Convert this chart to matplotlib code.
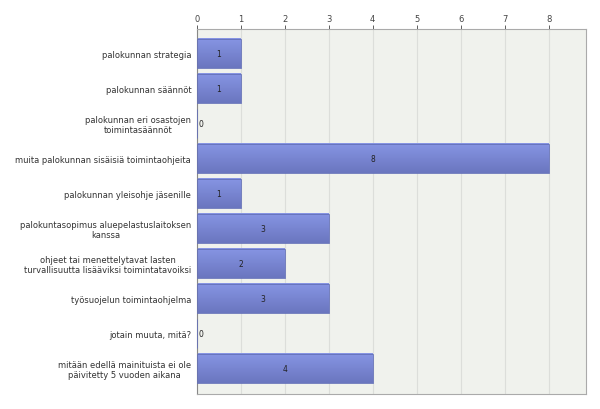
import matplotlib
matplotlib.use("Agg")
import matplotlib.pyplot as plt
import numpy as np
from matplotlib.colors import LinearSegmentedColormap

categories = [
    "palokunnan strategia",
    "palokunnan säännöt",
    "palokunnan eri osastojen\ntoimintasäännöt",
    "muita palokunnan sisäisiä toimintaohjeita",
    "palokunnan yleisohje jäsenille",
    "palokuntasopimus aluepelastuslaitoksen\nkanssa",
    "ohjeet tai menettelytavat lasten\nturvallisuutta lisääviksi toimintatavoiksi",
    "työsuojelun toimintaohjelma",
    "jotain muuta, mitä?",
    "mitään edellä mainituista ei ole\npäivitetty 5 vuoden aikana",
]
values = [1, 1, 0, 8, 1, 3, 2, 3, 0, 4]
xticks = [0, 1, 2, 3, 4, 5, 6, 7, 8]

plt.rcParams['font.family'] = ['DejaVu Sans']

fig = plt.figure(figsize=(6, 4.1), dpi=100)
ax = fig.add_axes([0.328, 0.037, 0.648, 0.890])
ax.set_facecolor("#f0f2ed")

pos = list(range(len(values)))
bars = ax.barh(pos, values, height=0.83, color="none", edgecolor="#6370b8", linewidth=0.6, zorder=3)

# vertical gradient inside each bar
cmap = LinearSegmentedColormap.from_list("bar", ["#8795e4", "#6a76bf"])
grad = np.linspace(0, 1, 64).reshape(-1, 1)
for b in bars:
    w = b.get_width()
    if w <= 0:
        continue
    y0 = b.get_y()
    h = b.get_height()
    ax.imshow(grad, cmap=cmap, aspect="auto", origin="upper",
              extent=[0, w, y0 + h, y0], zorder=2.5, interpolation="bicubic")

for p, v in zip(pos, values):
    if v > 0:
        ax.text(v / 2, p, str(v), ha="center", va="center", fontsize=5.5, color="#222222", zorder=4)
    else:
        ax.text(0.05, p, str(v), ha="left", va="center", fontsize=5.5, color="#222222", zorder=4)

ax.set_xlim(0, 8.84)
ax.set_ylim(9.73, -0.7)
ax.set_xticks(xticks)
ax.xaxis.tick_top()
ax.tick_params(axis="x", labelsize=6, colors="#444444", length=3, width=0.6, pad=1)
ax.set_yticks(pos)
ax.set_yticklabels(categories, fontsize=6, color="#333333")
for lbl in ax.get_yticklabels():
    lbl.set_multialignment("center")
    lbl.set_linespacing(1.1)
ax.tick_params(axis="y", length=0, pad=4)
ax.grid(axis="x", color="#dcdeda", linewidth=0.8, zorder=0)

for s in ax.spines.values():
    s.set_color("#aaaaaa")
    s.set_linewidth(0.8)
ax.spines["left"].set_color("#888888")

fig.savefig("out.png", dpi=100)
